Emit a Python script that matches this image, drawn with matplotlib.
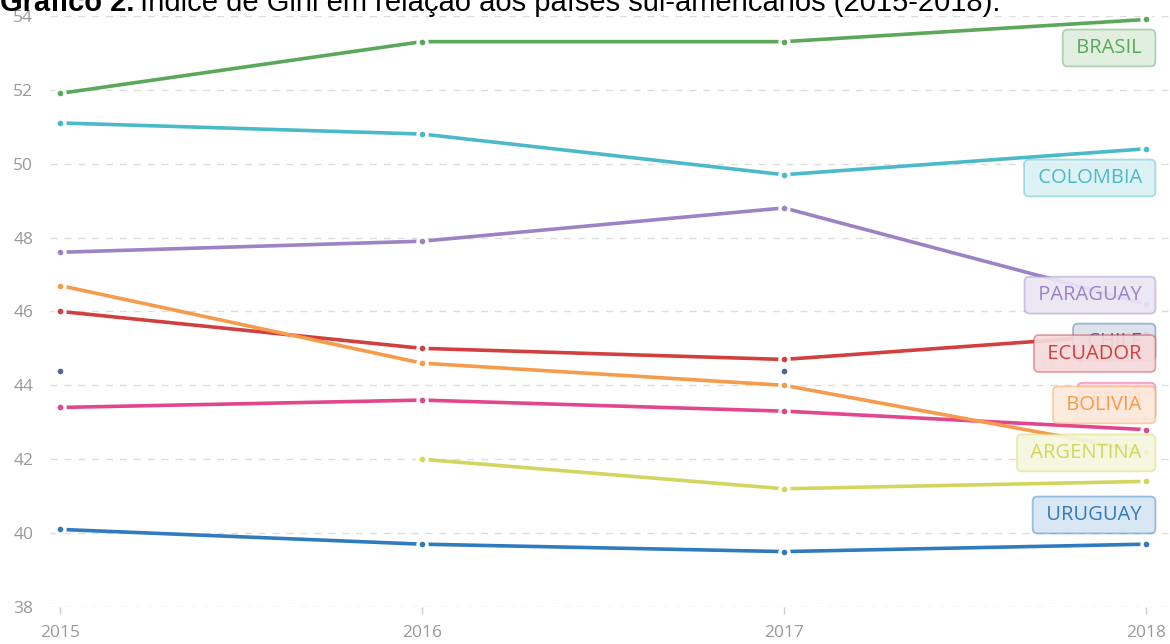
import numpy as np
import matplotlib
matplotlib.use('Agg')
import matplotlib.pyplot as plt
from matplotlib.colors import to_rgb

# ── data (Gini index) ──
years = [2015, 2016, 2017, 2018]
countries = ['BRASIL', 'COLOMBIA', 'PARAGUAY', 'CHILE', 'ECUADOR',
             'PERÚ', 'BOLIVIA', 'ARGENTINA', 'URUGUAY']
brasil    = [51.9, 53.3, 53.3, 53.9]
colombia  = [51.1, 50.8, 49.7, 50.4]
paraguay  = [47.6, 47.9, 48.8, 46.2]
chile     = [44.4, np.nan, 44.4, np.nan]
ecuador   = [46.0, 45.0, 44.7, 45.4]
peru      = [43.4, 43.6, 43.3, 42.8]
bolivia   = [46.7, 44.6, 44.0, 42.2]
argentina = [np.nan, 42.0, 41.2, 41.4]
uruguay   = [40.1, 39.7, 39.5, 39.7]
series = [brasil, colombia, paraguay, chile, ecuador, peru, bolivia, argentina, uruguay]

colors = ['#5ba85b', '#4bbac8', '#9d82c5', '#4d66a0', '#d13f3f',
          '#e2468c', '#f59b4b', '#d3d65e', '#2f7bbd']
# label box centres (data units), nudged apart like the original
label_y = [53.13, 49.61, 46.44, 45.17, 44.86, 43.57, 43.47, 42.17, 40.49]

title_bold = 'Gráfico 2.'
title_rest = 'Índice de Gini em relação aos países sul-americanos (2015-2018).'
y_ticks = [38, 40, 42, 44, 46, 48, 50, 52, 54]

GRAY = '#999999'

W, H = 1170, 644
fig = plt.figure(figsize=(W / 100, H / 100), dpi=100)
fig.patch.set_facecolor('white')
ax = fig.add_axes([50 / W, (H - 607) / H, (W - 50) / W, (607 - 15.8) / H])

ax.set_xlim(2015 - 10 / 362, 2018 + 24 / 362)
ax.set_ylim(38, 54)

for y in y_ticks:
    ax.axhline(y, color='#dddddd', linewidth=1, linestyle=(0, (5, 5)), zorder=0)

for vals, c in zip(series, colors):
    ax.plot(years, vals, color=c, linewidth=2.6, solid_capstyle='butt',
            marker='o', markersize=6.5, markerfacecolor=c,
            markeredgecolor='white', markeredgewidth=2.4, zorder=2)

for name, c, ly in zip(countries, colors, label_y):
    r, g, b = to_rgb(c)
    face = (0.8 + 0.2 * r, 0.8 + 0.2 * g, 0.8 + 0.2 * b, 0.92)
    edge = (r, g, b, 0.45)
    ax.text(2018 + 10 / 362 - 9 / 362, ly, ' ' + name + ' ', ha='right', va='center',
            fontsize=14.5, family='Open Sans', color=c, zorder=5,
            bbox=dict(boxstyle='round,pad=0.42,rounding_size=0.25',
                      facecolor=face, edgecolor=edge, linewidth=1.3))

for s in ax.spines.values():
    s.set_visible(False)
ax.set_yticks(y_ticks)
ax.set_yticklabels([str(v) for v in y_ticks])
ax.set_xticks(years)
ax.set_xticklabels([str(v) for v in years])
ax.tick_params(axis='y', length=0, pad=12, labelsize=12.5, labelcolor=GRAY)
ax.tick_params(axis='x', length=5, width=1, color='#cccccc', pad=8,
               labelsize=12.5, labelcolor=GRAY)
for lab in ax.get_xticklabels() + ax.get_yticklabels():
    lab.set_family('Open Sans')

tb = fig.text(0.0, 1 - 11 / H, title_bold, ha='left', va='baseline',
              fontsize=21, fontweight='bold', family='Liberation Sans', color='black')
fig.canvas.draw()
bb = tb.get_window_extent()
fig.text(bb.x1 / W + 6 / W, 1 - 11 / H, title_rest, ha='left', va='baseline',
         fontsize=21, family='Liberation Sans', color='black')

fig.savefig('out.png', dpi=100)
